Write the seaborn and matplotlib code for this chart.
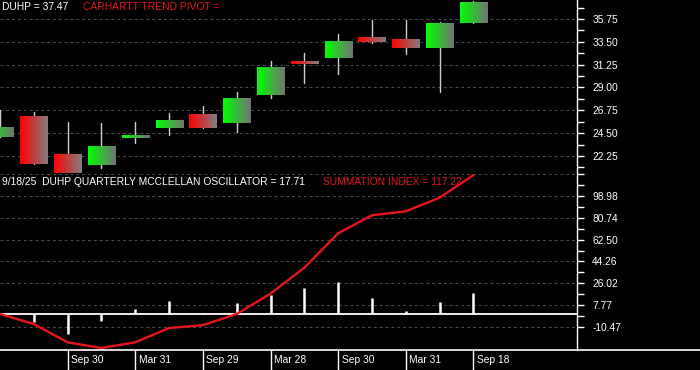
import numpy as np
import pandas as pd
import seaborn as sns
import matplotlib.pyplot as plt
import matplotlib.transforms as mtransforms

# quarterly candles (index 0 = Mar 2022 ... index 14 = Sep 18 2025)
opens = [24.15, 26.19, 22.38, 21.39, 23.99, 25.04, 26.39, 25.50, 28.29, 31.54, 31.94, 33.91, 33.78, 32.92, 35.36]
highs = [26.80, 26.58, 25.60, 25.50, 25.60, 26.49, 27.18, 28.56, 31.61, 32.43, 34.30, 35.65, 35.65, 35.45, 37.50]
lows = [24.15, 21.49, 20.30, 21.04, 23.56, 24.35, 25.04, 24.64, 27.99, 29.47, 30.36, 33.41, 32.33, 28.59, 35.36]
closes = [25.04, 21.49, 20.30, 23.17, 24.25, 25.73, 25.04, 27.96, 31.02, 31.35, 33.61, 33.48, 32.92, 35.36, 37.40]

osc = [np.nan, -6.4, -16.5, -5.6, 4.2, 11.2, 1.3, 9.6, 16.3, 22.4, 27.1, 13.8, 3.0, 10.4, 17.71]
summ = [0.4, -8.0, -23.3, -28.0, -23.3, -11.3, -9.0, 0.4, 17.4, 39.1, 67.8, 82.9, 86.2, 97.6, 116.5]

date_pos = [2, 4, 6, 8, 10, 12, 14]
date_labels = ["Sep 30", "Mar 31", "Sep 29", "Mar 28", "Sep 30", "Mar 31", "Sep 18"]

price_ticks = [22.25, 24.50, 26.75, 29.00, 31.25, 33.50, 35.75]
osc_ticks = [-10.47, 7.77, 26.02, 44.26, 62.50, 80.74, 98.98, 117.22]

sns.set_style("dark", {"axes.facecolor": "black", "figure.facecolor": "black"})
plt.rcParams['font.family'] = ['Liberation Sans', 'DejaVu Sans']

RED = "#e8141c"
GRID = "#4e4e4e"
FS = 7.4

fig = plt.figure(figsize=(7, 3.7), dpi=100)
W, H = 700, 370
ax1 = fig.add_axes([0, (H - 173) / H, 577 / W, 173 / H])
ax2 = fig.add_axes([0, 20 / H, 577 / W, 177 / H])

df = pd.DataFrame({"i": np.arange(len(opens)), "open": opens, "high": highs,
                   "low": lows, "close": closes, "osc": osc, "summ": summ})


def grad(c1, c2):
    t = np.linspace(0, 1, 64)[None, :, None]
    return np.array(c1)[None, None, :] * (1 - t) + np.array(c2)[None, None, :] * t


green_img = grad([0.0, 1.0, 0.0], [0.45, 0.45, 0.45])
red_img = grad([1.0, 0.0, 0.0], [0.5, 0.5, 0.5])

# top panel: candles
for _, r in df.iterrows():
    ax1.plot([r.i, r.i], [r.low, r.high], color="#d0d0d0", lw=1, zorder=2)
    lo, hi = min(r.open, r.close), max(r.open, r.close)
    if hi - lo < 0.2:
        mid = (hi + lo) / 2
        lo, hi = mid - 0.1, mid + 0.1
    img = green_img if r.close >= r.open else red_img
    ax1.imshow(img, extent=(r.i - 0.4, r.i + 0.4, lo, hi), aspect="auto",
               interpolation="bilinear", zorder=3)

# bottom panel: oscillator bars + summation line
ax2.axhline(0, color="white", lw=1.3, zorder=2)
ax2.vlines(df.i, 0, df.osc, color="white", lw=1.8, zorder=3)
sns.lineplot(data=df, x="i", y="summ", ax=ax2, color=RED, lw=1.7, zorder=4)

ax1.set_ylim(20.57, 37.62)
ax2.set_ylim(-29.7, 118.2)
for ax in (ax1, ax2):
    ax.set_xlim(0, 577 / 33.82)
    ax.set_xlabel("")
    ax.set_ylabel("")
    ax.yaxis.tick_right()
    ax.grid(False)
    for s in ["top", "left", "bottom"]:
        ax.spines[s].set_visible(False)
    ax.spines["right"].set_color("white")
    ax.spines["right"].set_linewidth(1)
    ax.tick_params(axis="y", colors="white", labelcolor="white", labelsize=FS,
                   length=5, width=1, pad=6, which="both", direction="out")
    ax.tick_params(axis="x", bottom=False, labelbottom=False)

ax1.set_yticks(price_ticks)
ax1.set_yticks([t + 1.125 for t in price_ticks] + [21.125], minor=True)
ax1.set_yticklabels([f"{t:.2f}" for t in price_ticks])
for t in price_ticks + [20.0]:
    ax1.axhline(t, color=GRID, lw=0.7, ls=(0, (3, 3)), zorder=1)

ax2.set_yticks(osc_ticks)
ax2.set_yticks([t + 9.12 for t in osc_ticks[:-1]], minor=True)
ax2.set_yticklabels([f"{t:.2f}" for t in osc_ticks[:-1]] + [""])
for t in osc_ticks:
    ax2.axhline(t, color=GRID, lw=0.7, ls=(0, (3, 3)), zorder=1)

# date strip below the chart
fig.add_artist(plt.Line2D([0, 1], [20 / H, 20 / H], color="white", lw=1.2))
trans = mtransforms.blended_transform_factory(ax2.transData, fig.transFigure)
for p, lab in zip(date_pos, date_labels):
    ax2.plot([p, p], [0, 20 / H], color="white", lw=1, transform=trans, clip_on=False)
    ax2.text(p + 0.1, 10 / H, lab, color="white", fontsize=FS, ha="left", va="center",
             transform=trans)

# titles
fig.text(2 / W, 1 - 7 / H, "DUHP = 37.47", color="white", fontsize=FS, va="center")
fig.text(83 / W, 1 - 7 / H, "CARHARTT TREND PIVOT =", color=RED, fontsize=FS, va="center")
fig.text(2 / W, 1 - 182 / H, "9/18/25  DUHP QUARTERLY MCCLELLAN OSCILLATOR = 17.71",
         color="white", fontsize=FS, va="center")
fig.text(323 / W, 1 - 182 / H, "SUMMATION INDEX = 117.22", color=RED, fontsize=FS, va="center")

fig.savefig("out.png", dpi=100, facecolor="black")
